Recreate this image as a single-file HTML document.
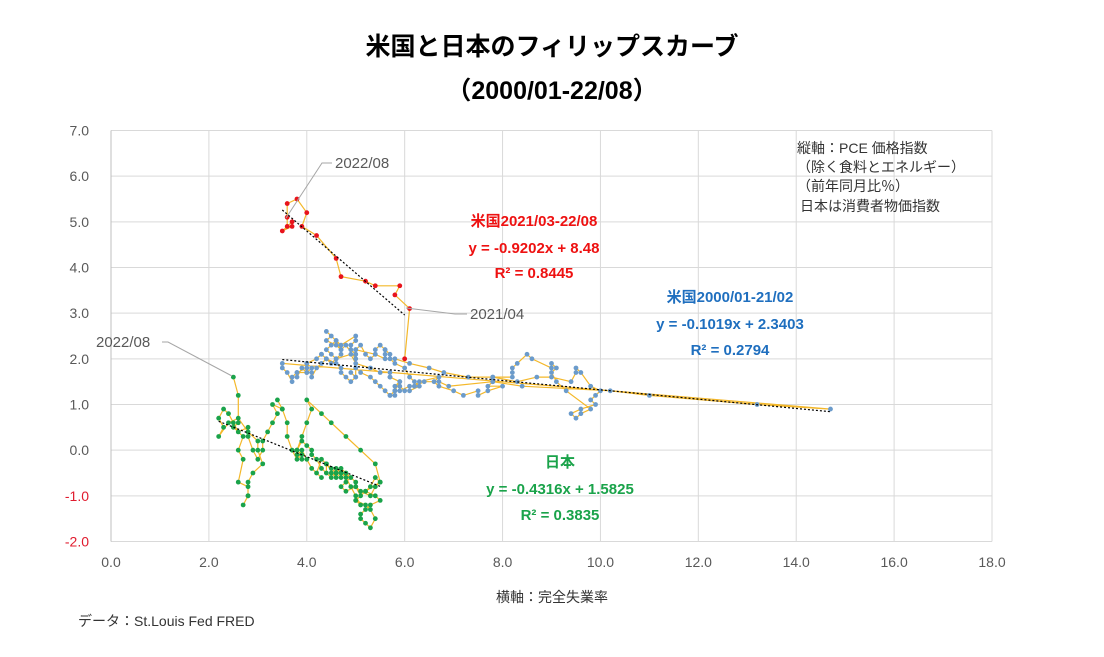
<!DOCTYPE html>
<html><head><meta charset="utf-8">
<style>
body{margin:0;background:#fff;}
svg{display:block;font-family:"Liberation Sans","Noto Sans CJK JP",sans-serif;}
</style></head>
<body>
<svg id="chart" width="1104" height="657" viewBox="0 0 1104 657">
<rect width="1104" height="657" fill="#fff"/>
<text x="552" y="55" text-anchor="middle" font-size="25" font-weight="bold" fill="#000">米国と日本のフィリップスカーブ</text>
<text x="552" y="99" text-anchor="middle" font-size="25" font-weight="bold" fill="#000">（2000/01-22/08）</text>
<g id="grid"></g>
<g id="ticks"></g>
<g id="series"></g>
<g font-size="14" fill="#333">
<text x="797" y="153">縦軸：PCE 価格指数</text>
<text x="797" y="172">（除く食料とエネルギー）</text>
<text x="797" y="191">（前年同月比％）</text>
<text x="800" y="211">日本は消費者物価指数</text>
</g>
<g font-size="15" font-weight="bold" fill="#ee1111" text-anchor="middle">
<text x="534" y="226">米国2021/03-22/08</text>
<text x="534" y="253">y = -0.9202x + 8.48</text>
<text x="534" y="278">R² = 0.8445</text>
</g>
<g font-size="15" font-weight="bold" fill="#1f6fbf" text-anchor="middle">
<text x="730" y="302">米国2000/01-21/02</text>
<text x="730" y="329">y = -0.1019x + 2.3403</text>
<text x="730" y="355">R² = 0.2794</text>
</g>
<g font-size="15" font-weight="bold" fill="#1aa34a" text-anchor="middle">
<text x="560" y="467">日本</text>
<text x="560" y="494">y = -0.4316x + 1.5825</text>
<text x="560" y="520">R² = 0.3835</text>
</g>
<g font-size="15" fill="#595959">
<text x="335" y="168">2022/08</text>
<polyline points="332,163 322,163 286,218" fill="none" stroke="#a6a6a6" stroke-width="1"/>
<text x="470" y="319">2021/04</text>
<polyline points="467,314 455,314 406,308" fill="none" stroke="#a6a6a6" stroke-width="1"/>
<text x="96" y="347">2022/08</text>
<polyline points="162,342 168,342 232,376" fill="none" stroke="#a6a6a6" stroke-width="1"/>
</g>
<text x="552" y="602" text-anchor="middle" font-size="14" fill="#333">横軸：完全失業率</text>
<text x="78" y="626" font-size="14" fill="#333">データ：St.Louis Fed  FRED</text>
</svg>
<script>
const xTicks=[0,2,4,6,8,10,12,14,16,18];
const yTicks=[-2,-1,0,1,2,3,4,5,6,7];
const usX=[4.0,4.1,4.0,3.8,4.0,4.0,4.2,4.3,4.4,4.3,4.5,4.6,4.9,5.0,5.3,5.5,5.7,5.7,5.7,5.9,5.8,5.8,5.8,5.7,5.8,5.9,5.9,6.0,6.1,6.3,6.2,6.1,6.0,5.8,5.7,5.7,5.6,5.6,5.6,5.5,5.4,5.4,5.3,5.2,5.1,5.0,5.0,4.9,4.9,5.0,5.0,4.7,4.6,4.7,4.6,4.4,4.5,4.4,4.6,4.5,4.4,4.5,4.6,4.7,4.7,4.8,5.0,5.0,5.0,5.4,5.6,5.8,6.1,6.5,6.8,7.3,7.8,8.3,8.7,9.0,9.4,9.5,9.5,9.6,9.8,10.0,9.9,9.8,9.9,9.6,9.4,9.5,9.6,9.8,9.3,9.1,9.0,9.1,9.0,9.0,8.6,8.5,8.3,8.2,8.2,8.2,7.8,7.8,7.7,8.0,7.7,7.5,7.5,7.2,7.0,6.7,6.6,6.7,6.3,6.2,6.1,5.9,5.8,5.7,5.6,5.5,5.4,5.3,5.1,5.0,5.0,4.9,5.0,4.9,4.8,4.7,4.7,4.6,4.4,4.3,4.2,4.1,4.1,4.0,3.9,3.8,3.8,3.7,3.7,3.6,3.5,3.6];
const usY=[1.9,1.8,1.7,1.7,1.8,1.9,2.0,2.1,2.0,2.1,1.9,2.0,2.1,1.9,1.8,1.7,1.7,1.6,1.6,1.5,1.4,1.3,1.2,1.2,1.3,1.5,1.4,1.3,1.3,1.4,1.5,1.6,1.8,1.9,2.0,2.1,2.2,2.1,2.2,2.3,2.2,2.1,2.0,2.1,2.3,2.2,2.1,2.2,2.3,2.4,2.5,2.3,2.4,2.2,2.3,2.4,2.5,2.6,2.4,2.3,2.2,2.1,2.0,2.1,2.2,2.3,2.0,2.1,2.2,2.1,2.0,2.0,1.9,1.8,1.7,1.6,1.6,1.5,1.6,1.6,1.5,1.7,1.8,1.7,1.4,1.3,1.2,1.1,1.0,0.9,0.8,0.7,0.8,0.9,1.3,1.5,1.7,1.8,1.9,1.8,2.0,2.1,1.9,1.8,1.7,1.6,1.6,1.5,1.4,1.4,1.3,1.2,1.3,1.2,1.3,1.4,1.5,1.6,1.5,1.4,1.4,1.3,1.3,1.2,1.3,1.4,1.5,1.6,1.7,1.8,1.6,1.7,1.6,1.5,1.6,1.7,1.8,1.9,2.0,1.9,1.8,1.6,1.7,1.7,1.8,1.6,1.7,1.6,1.5,1.7,1.8];
const usTailX=[3.5,14.7,13.2,11.0,10.2,8.4,7.8,6.9,6.7,6.4,6.2];
const usTailY=[1.9,0.9,1.0,1.2,1.3,1.4,1.5,1.4,1.5,1.5,1.4];
const usNewX=[6.0,6.1,5.8,5.9,5.4,5.2,4.7,4.6,4.2,3.9,4.0,3.8,3.6,3.6,3.6,3.7,3.5,3.7];
const usNewY=[2.0,3.1,3.4,3.6,3.6,3.7,3.8,4.2,4.7,4.9,5.2,5.5,5.4,5.1,4.9,4.9,4.8,5.0];
const jpX=[4.7,4.9,4.8,4.7,4.8,5.0,5.1,5.3,5.4,5.5,5.4,5.3,5.2,5.4,5.5,5.3,5.2,5.1,5.1,5.2,5.3,5.4,5.3,5.2,5.0,5.1,5.0,5.0,4.8,4.7,4.6,4.7,4.6,4.5,4.4,4.4,4.5,4.3,4.2,4.1,4.1,4.0,3.9,3.8,3.8,3.9,3.9,3.8,3.9,4.0,4.1,4.0,4.3,4.5,4.8,5.1,5.4,5.5,5.2,5.0,5.1,5.0,4.9,4.8,4.7,4.6,4.5,4.6,4.4,4.3,4.2,4.3,4.1,4.0,3.9,3.8,3.7,3.6,3.6,3.5,3.4,3.5,3.3,3.4,3.3,3.2,3.1,3.1,3.0,2.9,2.8,2.8,2.6,2.5,2.4,2.3,2.2,2.3,2.2,2.4,2.6,2.8,3.0,3.0,3.1,2.9,2.8,2.8,2.7,2.8,2.8,2.6,2.7,2.6,2.7,2.5,2.6,2.6,2.5];
const jpY=[-0.5,-0.6,-0.7,-0.8,-0.9,-0.8,-0.9,-1.0,-0.8,-0.7,-0.6,-0.8,-0.9,-1.0,-1.1,-1.2,-1.3,-1.4,-1.5,-1.6,-1.7,-1.5,-1.3,-1.2,-1.1,-1.0,-0.8,-0.7,-0.5,-0.4,-0.5,-0.6,-0.5,-0.4,-0.3,-0.5,-0.6,-0.4,-0.2,-0.1,0.0,0.1,0.2,0.0,-0.1,-0.2,-0.1,0.0,0.3,0.6,0.9,1.1,0.8,0.6,0.3,0.0,-0.3,-0.7,-0.9,-1.1,-1.2,-1.0,-0.8,-0.6,-0.5,-0.4,-0.5,-0.6,-0.3,-0.2,-0.5,-0.6,-0.4,-0.2,0.0,-0.2,0.0,0.3,0.6,0.9,1.1,0.9,1.0,0.8,0.6,0.4,0.2,0.0,-0.2,0.0,0.3,0.5,0.4,0.6,0.8,0.9,0.7,0.5,0.3,0.6,0.7,0.4,0.2,0.0,-0.3,-0.5,-0.7,-1.0,-1.2,-1.0,-0.8,-0.7,-0.2,0.0,0.3,0.5,0.6,1.2,1.6];
const regSlope=[-0.1019,-0.9202,-0.4316];
const regIntercept=[2.3403,8.48,1.5825];
const regFrom=[3.5,3.5,2.2];
const regTo=[14.7,6.0,5.5];

const NS='http://www.w3.org/2000/svg';
const X0=111,X1=992,Y0=541.5,Y1=130.5;
const sx=v=>X0+(v-xTicks[0])/(xTicks[xTicks.length-1]-xTicks[0])*(X1-X0);
const sy=v=>Y0-(v-yTicks[0])/(yTicks[yTicks.length-1]-yTicks[0])*(Y0-Y1);
function mk(tag,attrs,parent){const e=document.createElementNS(NS,tag);for(const k in attrs)e.setAttribute(k,attrs[k]);parent.appendChild(e);return e;}
const grid=document.getElementById('grid'),ticks=document.getElementById('ticks'),ser=document.getElementById('series');
yTicks.forEach(t=>{
 const l=mk('line',{x1:X0,x2:X1,y1:sy(t),y2:sy(t),stroke:'#d9d9d9','stroke-width':1},grid);
 
 
 const tx=mk('text',{x:89,y:sy(t)+5,'text-anchor':'end','font-size':14,fill:t<0?'#e01b2e':'#595959'},ticks);
 tx.textContent=t.toFixed(1);
 
 
});
xTicks.forEach(t=>{
 const l=mk('line',{x1:sx(t),x2:sx(t),y1:Y1,y2:Y0,stroke:t===0?'#bfbfbf':'#d9d9d9','stroke-width':1},grid);
 
 
 const tx=mk('text',{x:sx(t),y:567,'text-anchor':'middle','font-size':14,fill:'#595959'},ticks);
 tx.textContent=t.toFixed(1);
 
 
});
function drawSeries(xs,ys,color,name){
 const n=Math.min(xs.length,ys.length);
 const g=mk('g',{},ser);
 
 
 const pts=[];
 for(let i=0;i<n;i++)pts.push(sx(xs[i]).toFixed(1)+','+sy(ys[i]).toFixed(1));
 mk('polyline',{points:pts.join(' '),fill:'none',stroke:'#f4b82a','stroke-width':1.2},g);
 for(let i=0;i<n;i++){
  const c=mk('circle',{cx:sx(xs[i]),cy:sy(ys[i]),r:2.4,fill:color},g);
  
  
 }
}
const usN=Math.min(usX.length,usY.length);
drawSeries(usX.slice(0,usN).concat(usTailX),usY.slice(0,usN).concat(usTailY),'#6b9bcb','us-2000-2021-series');
drawSeries(jpX,jpY,'#1aa34a','japan-series');
drawSeries(usNewX,usNewY,'#e8141c','us-2021-2022-series');
regSlope.forEach((m,i)=>{
 const l=mk('line',{x1:sx(regFrom[i]),y1:sy(m*regFrom[i]+regIntercept[i]),x2:sx(regTo[i]),y2:sy(m*regTo[i]+regIntercept[i]),stroke:'#000','stroke-width':1.2,'stroke-dasharray':'2,2'},ser);
 
 
});
</script>
</body></html>
